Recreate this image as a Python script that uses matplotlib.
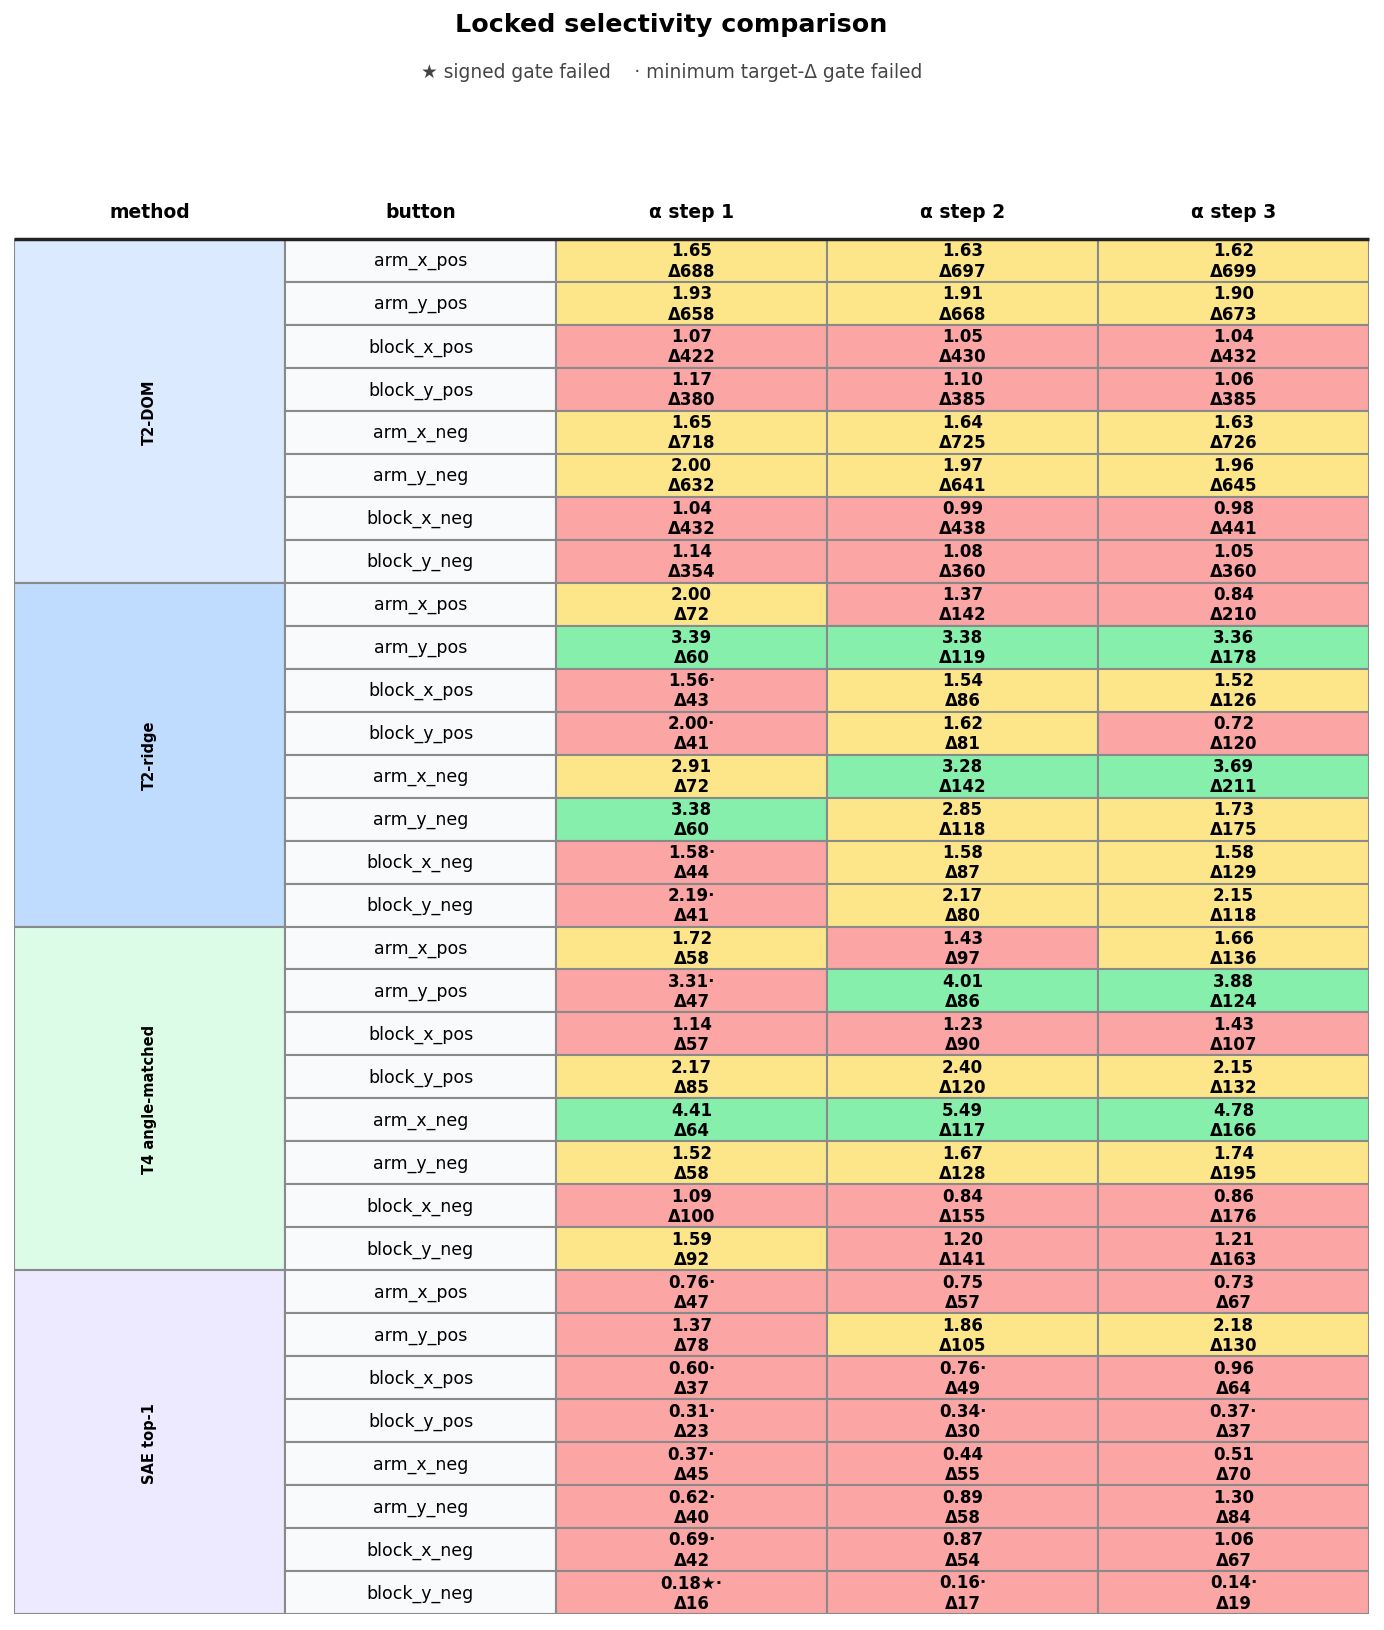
import matplotlib
matplotlib.use("Agg")
import matplotlib.pyplot as plt
from matplotlib.patches import Rectangle

methods = ["T2-DOM", "T2-ridge", "T4 angle-matched", "SAE top-1"]
buttons = ["arm_x_pos", "arm_y_pos", "block_x_pos", "block_y_pos",
           "arm_x_neg", "arm_y_neg", "block_x_neg", "block_y_neg"]
steps = ["\u03b1 step 1", "\u03b1 step 2", "\u03b1 step 3"]

# selectivity ratio per (button, step)
ratio_t2dom = [[1.65, 1.63, 1.62], [1.93, 1.91, 1.90], [1.07, 1.05, 1.04], [1.17, 1.10, 1.06],
               [1.65, 1.64, 1.63], [2.00, 1.97, 1.96], [1.04, 0.99, 0.98], [1.14, 1.08, 1.05]]
ratio_ridge = [[2.00, 1.37, 0.84], [3.39, 3.38, 3.36], [1.56, 1.54, 1.52], [2.00, 1.62, 0.72],
               [2.91, 3.28, 3.69], [3.38, 2.85, 1.73], [1.58, 1.58, 1.58], [2.19, 2.17, 2.15]]
ratio_t4 = [[1.72, 1.43, 1.66], [3.31, 4.01, 3.88], [1.14, 1.23, 1.43], [2.17, 2.40, 2.15],
            [4.41, 5.49, 4.78], [1.52, 1.67, 1.74], [1.09, 0.84, 0.86], [1.59, 1.20, 1.21]]
ratio_sae = [[0.76, 0.75, 0.73], [1.37, 1.86, 2.18], [0.60, 0.76, 0.96], [0.31, 0.34, 0.37],
             [0.37, 0.44, 0.51], [0.62, 0.89, 1.30], [0.69, 0.87, 1.06], [0.18, 0.16, 0.14]]

# target delta per (button, step)
delta_t2dom = [[688, 697, 699], [658, 668, 673], [422, 430, 432], [380, 385, 385],
               [718, 725, 726], [632, 641, 645], [432, 438, 441], [354, 360, 360]]
delta_ridge = [[72, 142, 210], [60, 119, 178], [43, 86, 126], [41, 81, 120],
               [72, 142, 211], [60, 118, 175], [44, 87, 129], [41, 80, 118]]
delta_t4 = [[58, 97, 136], [47, 86, 124], [57, 90, 107], [85, 120, 132],
            [64, 117, 166], [58, 128, 195], [100, 155, 176], [92, 141, 163]]
delta_sae = [[47, 57, 67], [78, 105, 130], [37, 49, 64], [23, 30, 37],
             [45, 55, 70], [40, 58, 84], [42, 54, 67], [16, 17, 19]]

# gate flags: "*" signed gate failed, "." minimum target-delta gate failed
flags_t2dom = [["", "", ""]] * 8
flags_ridge = [["", "", ""], ["", "", ""], [".", "", ""], [".", "", ""],
               ["", "", ""], ["", "", ""], [".", "", ""], [".", "", ""]]
flags_t4 = [["", "", ""], [".", "", ""], ["", "", ""], ["", "", ""],
            ["", "", ""], ["", "", ""], ["", "", ""], ["", "", ""]]
flags_sae = [[".", "", ""], ["", "", ""], [".", ".", ""], [".", ".", "."],
             [".", "", ""], [".", "", ""], [".", "", ""], ["*.", ".", "."]]

ratios = [ratio_t2dom, ratio_ridge, ratio_t4, ratio_sae]
deltas = [delta_t2dom, delta_ridge, delta_t4, delta_sae]
flags = [flags_t2dom, flags_ridge, flags_t4, flags_sae]

method_colors = ["#dbeafe", "#bfdbfe", "#dcfce7", "#ede9fe"]
button_color = "#f8fafc"
edge = "#8a8a8a"


def cell_color(r, f):
    if f:
        return "#fca5a5"
    if r >= 3.0:
        return "#86efac"
    if r >= 1.5:
        return "#fde68a"
    return "#fca5a5"


W, H = 1384, 1631
fig = plt.figure(figsize=(W / 100, H / 100), dpi=100)
ax = fig.add_axes([14 / W, 1 - 1615 / H, 1355 / W, 1375 / H])
n_rows = len(methods) * len(buttons)
ax.set_xlim(0, 5)
ax.set_ylim(n_rows, 0)
ax.axis("off")

for m, method in enumerate(methods):
    top = m * len(buttons)
    ax.add_patch(Rectangle((0, top), 1, len(buttons), facecolor=method_colors[m],
                           edgecolor=edge, lw=1.5))
    ax.text(0.5, top + len(buttons) / 2, method, rotation=90, ha="center", va="center",
            fontsize=10.5, fontweight="bold")
    for b, button in enumerate(buttons):
        y = top + b
        ax.add_patch(Rectangle((1, y), 1, 1, facecolor=button_color, edgecolor=edge, lw=1.5))
        ax.text(1.5, y + 0.5, button, ha="center", va="center", fontsize=12.5)
        for s in range(len(steps)):
            r = ratios[m][b][s]
            f = flags[m][b][s]
            d = deltas[m][b][s]
            mark = f.replace("*", "\u2605").replace(".", "\u00b7")
            ax.add_patch(Rectangle((2 + s, y), 1, 1, facecolor=cell_color(r, f),
                                   edgecolor=edge, lw=1.5))
            ax.text(2.5 + s, y + 0.5, f"{r:.2f}{mark}\n\u0394{d}", ha="center", va="center",
                    fontsize=12, fontweight="bold", linespacing=1.15)

headers = ["method", "button"] + steps
for i, h in enumerate(headers):
    ax.text(i + 0.5, -0.65, h, ha="center", va="center", fontsize=13.5,
            fontweight="bold", clip_on=False)
ax.plot([0, 5], [0, 0], color="#222222", lw=2.5, clip_on=False, solid_capstyle="butt")

fig.text(0.485, 1 - 25 / H, "Locked selectivity comparison", ha="center", va="center",
         fontsize=18.3, fontweight="bold")
fig.text(0.485, 1 - 73 / H, "\u2605 signed gate failed    \u00b7 minimum target-\u0394 gate failed",
         ha="center", va="center", fontsize=13.4, color="#444444")

fig.savefig("out.png", dpi=100)
